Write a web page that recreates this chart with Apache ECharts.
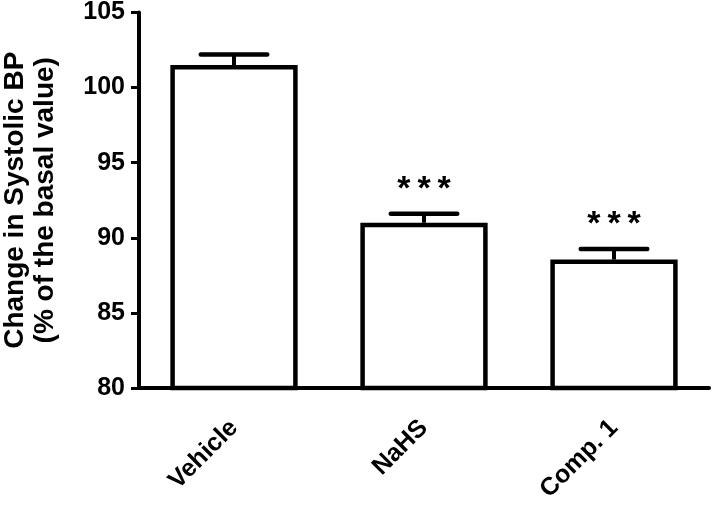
<!DOCTYPE html>
<html>
<head>
<meta charset="utf-8">
<script src="https://cdn.jsdelivr.net/npm/echarts@6/dist/echarts.min.js"></script>
<style>
html,body{margin:0;padding:0;background:#fff;}
#chart{width:712px;height:505px;}
</style>
</head>
<body>
<div id="chart"></div>
<script>
const categories = ['Vehicle', 'NaHS', 'Comp. 1'];
const means = [101.5, 91.0, 88.55];
const errors = [0.7, 0.6, 0.7];
const marks = ['', '*\u2009*\u2009*', '*\u2009*\u2009*'];
const yMin = 80, yMax = 105, yStep = 5;
const yTitle = 'Change in Systolic BP\n(% of the basal value)';

const FONT = 'Liberation Sans, Arial, sans-serif';
const chart = echarts.init(document.getElementById('chart'), null, {renderer: 'canvas'});

const errData = categories.map((c, i) => [i, means[i], errors[i]]);

chart.setOption({
  animation: false,
  backgroundColor: '#fff',
  grid: {left: 139, right: 3, top: 12.5, bottom: 117, containLabel: false, outerBoundsMode: 'none'},
  xAxis: {
    type: 'category',
    data: categories,
    axisLine: {lineStyle: {color: '#000', width: 4}},
    axisTick: {alignWithLabel: true, length: 10, lineStyle: {color: '#000', width: 3}},
    axisLabel: {rotate: 45, margin: 36, color: '#000', fontSize: 25, fontWeight: 'bold', fontFamily: FONT}
  },
  yAxis: {
    type: 'value',
    min: yMin, max: yMax, interval: yStep,
    name: yTitle,
    nameLocation: 'middle',
    nameRotate: 90,
    nameGap: 79,
    nameTextStyle: {color: '#000', fontSize: 28, fontWeight: 'bold', fontFamily: FONT, lineHeight: 30},
    axisLine: {show: true, lineStyle: {color: '#000', width: 4}},
    axisTick: {show: true, length: 8, lineStyle: {color: '#000', width: 3}},
    axisLabel: {margin: 14, color: '#000', fontSize: 25, fontWeight: 'bold', fontFamily: FONT},
    splitLine: {show: false}
  },
  series: [
    {
      type: 'bar',
      data: means,
      barWidth: '67%',
      itemStyle: {color: '#fff', borderColor: '#000', borderWidth: 4.5},
      z: 2
    },
    {
      type: 'custom',
      data: errData,
      z: 3,
      renderItem: function (params, api) {
        const i = api.value(0), m = api.value(1), e = api.value(2);
        const base = api.coord([i, m]);
        const top = api.coord([i, m + e]);
        const hw = api.size([1, 0])[0] * 0.175;
        const children = [
          {type: 'line', shape: {x1: base[0], y1: base[1], x2: top[0], y2: top[1]},
           style: {stroke: '#000', lineWidth: 4}},
          {type: 'line', shape: {x1: top[0] - hw, y1: top[1], x2: top[0] + hw, y2: top[1]},
           style: {stroke: '#000', lineWidth: 4.5, lineCap: 'round'}}
        ];
        const mk = marks[params.dataIndex];
        if (mk) {
          children.push({type: 'text', x: top[0], y: top[1] - 24.5,
            style: {text: mk, fill: '#000', font: 'bold 34px ' + FONT, align: 'center', verticalAlign: 'middle'}});
        }
        return {type: 'group', children: children};
      }
    }
  ]
});
</script>
</body>
</html>
